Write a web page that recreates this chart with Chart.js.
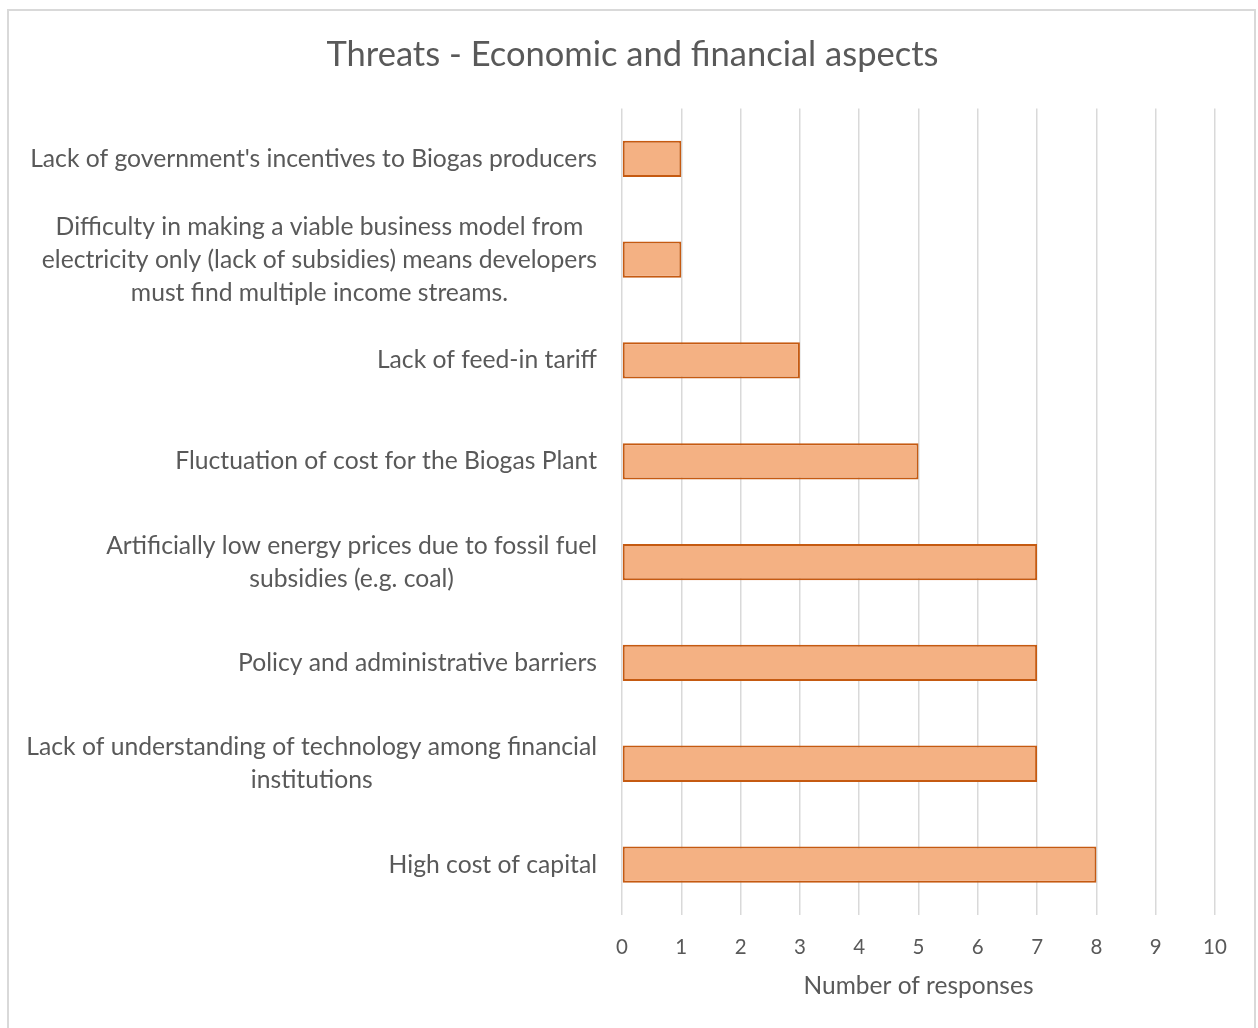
<!DOCTYPE html>
<html>
<head>
<meta charset="utf-8">
<script src="https://cdn.jsdelivr.net/npm/chart.js@4.4.0/dist/chart.umd.min.js"></script>
<style>
  html, body { margin: 0; padding: 0; background: #fff; }
  #wrap { position: absolute; left: 0; top: 0; width: 1258px; height: 1028px; }
  #frame { position: absolute; left: 7px; top: 9px; width: 1245px; height: 1040px;
           border: 2px solid #d9d9d9; pointer-events: none; }
</style>
</head>
<body>
<div id="wrap">
  <canvas id="myChart" width="1258" height="1028"></canvas>
  <div id="frame"></div>
</div>
<script>
// datos del gráfico
const categories = [
    "Lack of government's incentives to Biogas producers",
    ["Difficulty in making a viable business model from", "electricity only (lack of subsidies) means developers", "must find multiple income streams."],
    "Lack of feed-in tariff",
    "Fluctuation of cost for the Biogas Plant",
    ["Artificially low energy prices due to fossil fuel", "subsidies (e.g. coal)"],
    "Policy and administrative barriers",
    ["Lack of understanding of technology among financial", "institutions"],
    "High cost of capital"
];
const responses = [1, 1, 3, 5, 7, 7, 7, 8];
const xTicks = [0, 1, 2, 3, 4, 5, 6, 7, 8, 9, 10];

const textColor = '#595959';
const labelFont = '24.7px Lato';

// etiquetas del eje Y centradas por bloque (como en Excel)
const categoryLabels = {
    id: 'categoryLabels',
    afterDraw(chart) {
        const ctx = chart.ctx;
        const yScale = chart.scales.y;
        const rightEdge = yScale.right - 25;
        ctx.save();
        ctx.font = labelFont;
        ctx.fillStyle = textColor;
        ctx.textAlign = 'center';
        ctx.textBaseline = 'middle';
        categories.forEach((label, i) => {
            const lines = Array.isArray(label) ? label : [label];
            const w = Math.max(...lines.map(l => ctx.measureText(l).width));
            const cx = rightEdge - w / 2;
            const y = yScale.getPixelForTick(i);
            lines.forEach((line, j) => {
                ctx.fillText(line, cx, y + (j - (lines.length - 1) / 2) * 33);
            });
        });
        ctx.restore();
    }
};

const ctx = document.getElementById('myChart');

new Chart(ctx, {
    type: 'bar',
    data: {
        labels: categories,
        datasets: [{
            label: 'Number of responses',
            data: responses,
            backgroundColor: '#f4b183',
            borderColor: '#c55a11',
            borderWidth: 2,
            borderSkipped: false,
            barPercentage: 0.36,
            categoryPercentage: 1
        }]
    },
    options: {
        indexAxis: 'y',
        responsive: false,
        animation: false,
        layout: { padding: { left: 50, right: 43, top: 0, bottom: 0 } },
        plugins: {
            legend: { display: false },
            tooltip: { enabled: false },
            title: {
                display: true,
                text: 'Threats - Economic and financial aspects',
                color: textColor,
                font: { family: 'Lato', size: 34.5, weight: 'normal' },
                padding: { top: 34, bottom: 33 }
            }
        },
        scales: {
            x: {
                min: 0,
                max: 10,
                afterBuildTicks: (scale) => { scale.ticks = xTicks.map(v => ({ value: v })); },
                afterFit: (scale) => { scale.height = 113; },
                grid: { color: '#d9d9d9', lineWidth: 1.5, drawTicks: false },
                border: { display: false },
                ticks: {
                    color: textColor,
                    font: { family: 'Lato', size: 20.5 },
                    padding: 20
                },
                title: {
                    display: true,
                    text: 'Number of responses',
                    color: textColor,
                    font: { family: 'Lato', size: 24.5 },
                    padding: { top: 10, bottom: 27 }
                }
            },
            y: {
                grid: { display: false },
                border: { display: false },
                ticks: { display: false },
                afterFit: (scale) => { scale.width = 572; }
            }
        }
    },
    plugins: [categoryLabels]
});
</script>
</body>
</html>
